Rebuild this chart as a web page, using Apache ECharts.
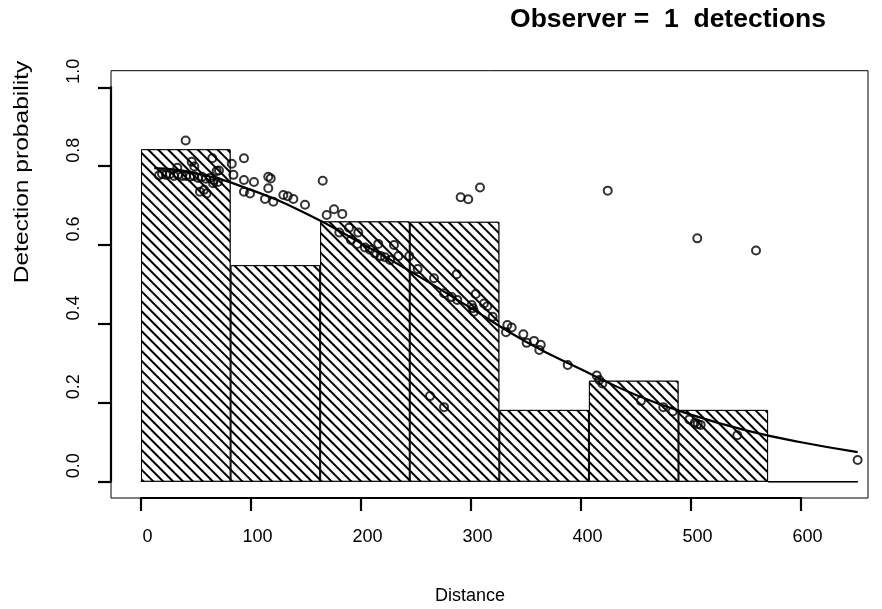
<!DOCTYPE html>
<html><head><meta charset="utf-8">
<script src="https://cdn.jsdelivr.net/npm/echarts@6/dist/echarts.min.js"></script>
<style>html,body{margin:0;padding:0;background:#fff}#c{width:882px;height:609px}</style>
</head><body><div id="c"></div>
<script>
// ---- data ----
const titleText = 'Observer =  1  detections';
const xTitle = 'Distance';
const yTitle = 'Detection probability';
const binLabels = ['0-81', '81-163', '163-244', '244-326', '326-407', '407-489', '489-570', '570-652'];
const binHeights = [0.843, 0.549, 0.660, 0.659, 0.182, 0.256, 0.182, 0];
const binMax = 651.5;
const xTicks = [0, 100, 200, 300, 400, 500, 600];
const yTicks = [0, 0.2, 0.4, 0.6, 0.8, 1.0];
const curveX = [12, 50, 100, 150, 200, 250, 300, 350, 400, 450, 500, 550, 600, 651.5];
const curveY = [0.795, 0.782, 0.740, 0.680, 0.605, 0.525, 0.440, 0.355, 0.285, 0.220, 0.170, 0.130, 0.100, 0.075];
const obsX = [16.4, 19.1, 22.7, 26.4, 30.0, 33.6, 37.3, 40.9, 44.5, 48.2, 51.8, 55.5, 59.1, 62.7, 66.4, 70.0,
  40.6, 46.1, 48.5, 33.0, 64.8, 65.5, 53.6, 59.7, 57.3, 68.8, 70.9,
  93.6, 82.5, 84.0, 93.6, 102.7, 93.6, 99.1, 115.7, 117.9, 115.7, 112.7, 120.3, 165.2, 129.4, 133.4, 138.5, 149.1,
  168.8, 175.5, 183.0, 180.3, 189.1, 197.5, 190.9, 196.6, 203.6, 208.2, 215.7, 212.7, 217.9, 221.8, 230.0, 226.4, 233.9, 243.9,
  251.5, 266.4, 287.0, 275.5, 282.4, 287.5, 300.6, 302.7, 301.8, 304.3, 311.8, 314.8, 319.7, 262.7, 275.5,
  290.6, 297.5, 308.2, 424.3, 505.7, 559.1, 651.5,
  333.0, 337.0, 331.8, 347.6, 350.6, 357.3, 363.4, 362.1, 387.9, 414.3, 416.6, 419.4,
  454.5, 474.8, 483.3, 498.5, 503.6, 506.1, 508.8, 542.1];
const obsY = [0.777, 0.780, 0.778, 0.780, 0.775, 0.778, 0.775, 0.775, 0.773, 0.775, 0.770, 0.773, 0.768, 0.770, 0.765, 0.760,
  0.865, 0.811, 0.799, 0.796, 0.820, 0.757, 0.735, 0.731, 0.740, 0.788, 0.789,
  0.820, 0.806, 0.778, 0.765, 0.760, 0.735, 0.731, 0.773, 0.769, 0.744, 0.717, 0.710, 0.763, 0.727, 0.724, 0.717, 0.702,
  0.676, 0.691, 0.679, 0.632, 0.644, 0.632, 0.613, 0.603, 0.594, 0.588, 0.603, 0.579, 0.572, 0.569, 0.600, 0.562, 0.572, 0.572,
  0.539, 0.516, 0.526, 0.478, 0.468, 0.461, 0.448, 0.431, 0.440, 0.476, 0.452, 0.445, 0.418, 0.217, 0.189,
  0.721, 0.716, 0.746, 0.738, 0.617, 0.586, 0.055,
  0.397, 0.391, 0.379, 0.374, 0.352, 0.357, 0.347, 0.334, 0.296, 0.269, 0.258, 0.249,
  0.205, 0.189, 0.178, 0.158, 0.150, 0.146, 0.144, 0.118];

// ---- layout (pixels) ----
const W = 882, H = 609;
const boxL = 111, boxR = 868, boxT = 70.7, boxB = 498;
const px0 = 141, px600 = 801, py0 = 481.7, py1 = 87.3;
const sx = (px600 - px0) / 600, sy = (py0 - py1);
const dXmin = (boxL - px0) / sx, dXmax = (boxR - px0) / sx;
const dYmin = (py0 - boxB) / sy, dYmax = (py0 - boxT) / sy;
const barRightPx = px0 + binMax * sx;
const FONT = 'Liberation Sans, Arial, sans-serif';

const chart = echarts.init(document.getElementById('c'), null, {renderer: 'canvas'});
const hidden = {show: false};
chart.setOption({
  animation: false,
  backgroundColor: '#fff',
  grid: [
    {left: boxL, right: W - boxR, top: boxT, bottom: H - boxB, show: true, borderColor: '#000', borderWidth: 1, backgroundColor: 'transparent'},
    {left: px0, right: W - barRightPx, top: py1, bottom: H - py0},
    {left: px0, right: W - px600, top: 100, bottom: H - boxB},
    {left: boxL, width: 20, top: py1, bottom: H - py0}
  ],
  xAxis: [
    {gridIndex: 0, type: 'value', min: dXmin, max: dXmax, show: false},
    {gridIndex: 1, type: 'category', data: binLabels, boundaryGap: true,
      axisLine: {show: true, lineStyle: {color: '#000', width: 1}}, axisTick: hidden, axisLabel: hidden, splitLine: hidden},
    {gridIndex: 2, type: 'value', min: xTicks[0], max: xTicks[xTicks.length - 1], interval: xTicks[1] - xTicks[0],
      axisLine: {show: true, onZero: false, lineStyle: {color: '#000', width: 2.2}},
      axisTick: {show: true, length: 13, lineStyle: {color: '#000', width: 2.2}},
      axisLabel: {show: true, margin: 30, color: '#000', fontSize: 18, fontFamily: FONT, padding: [0, 0, 0, 13]},
      splitLine: hidden},
    {gridIndex: 3, type: 'value', min: 0, max: 1, show: false}
  ],
  yAxis: [
    {gridIndex: 0, type: 'value', min: dYmin, max: dYmax, show: false},
    {gridIndex: 1, type: 'value', min: 0, max: 1, show: false},
    {gridIndex: 2, type: 'value', min: 0, max: 1, show: false},
    {gridIndex: 3, type: 'value', min: yTicks[0], max: yTicks[yTicks.length - 1], interval: yTicks[1] - yTicks[0],
      axisLine: {show: true, onZero: false, lineStyle: {color: '#000', width: 2.2}},
      axisTick: {show: true, length: 13, lineStyle: {color: '#000', width: 2.2}},
      axisLabel: {show: true, rotate: 90, margin: 28, color: '#000', fontSize: 18, fontFamily: FONT,
        formatter: v => v.toFixed(1), padding: [0, 0, 0, 32]},
      splitLine: hidden}
  ],
  graphic: [
    {type: 'text', x: 668, y: 20, style: {text: titleText, font: 'bold 26.5px ' + FONT, fill: '#000', textAlign: 'center', textVerticalAlign: 'middle'}},
    {type: 'text', x: 470, y: 596, style: {text: xTitle, font: '18px ' + FONT, fill: '#000', textAlign: 'center', textVerticalAlign: 'middle'}},
    {type: 'text', x: 22, y: 172, rotation: Math.PI / 2, scaleX: 1.17, style: {text: yTitle, font: '21px ' + FONT, fill: '#000', textAlign: 'center', textVerticalAlign: 'middle'}}
  ],
  series: [
    {type: 'bar', xAxisIndex: 1, yAxisIndex: 1, data: binHeights, barCategoryGap: '0%', barGap: '0%',
      itemStyle: {color: '#fff', borderColor: '#000', borderWidth: 1,
        decal: {symbol: 'rect', symbolSize: 1, color: '#000', backgroundColor: '#fff', dashArrayX: [1, 0], dashArrayY: [1.1, 4.1], rotation: Math.PI / 4}},
      emphasis: {disabled: true}, silent: true},
    {type: 'line', xAxisIndex: 0, yAxisIndex: 0, data: curveX.map((x, i) => [x, curveY[i]]), smooth: true, showSymbol: false,
      lineStyle: {color: '#000', width: 2.2}, silent: true},
    {type: 'scatter', xAxisIndex: 0, yAxisIndex: 0, data: obsX.map((x, i) => [x, obsY[i]]), symbol: 'circle', symbolSize: 8,
      itemStyle: {color: 'rgba(0,0,0,0)', borderColor: '#000', borderWidth: 2}, silent: true}
  ]
});
</script></body></html>
